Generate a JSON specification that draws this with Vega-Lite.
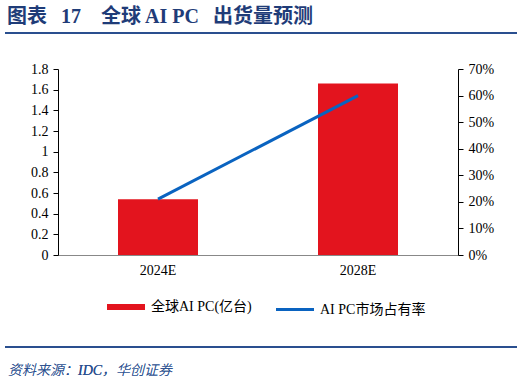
{
  "$schema": "https://vega.github.io/schema/vega-lite/v6.json",
  "autosize": "none",
  "width": 400,
  "height": 186,
  "padding": {"left": 58, "top": 69, "right": 66, "bottom": 127},
  "background": "white",
  "title": {
    "text": "图表\u2002\u200917\u2003全球\u2009AI PC\u2002\u2009出货量预测",
    "anchor": "start",
    "frame": "group",
    "dx": -51,
    "offset": 5,
    "font": "'Liberation Serif', 'Noto Sans CJK SC'",
    "fontSize": 20,
    "fontWeight": "bold",
    "color": "#1F3C78"
  },
  "config": {
    "view": {"stroke": null},
    "axis": {
      "labelFont": "'Liberation Serif', 'Noto Sans CJK SC'",
      "labelFontSize": 14,
      "labelColor": "#000000",
      "grid": false,
      "title": null
    }
  },
  "data": {
    "values": [
      {"year": "2024E", "shipments": 0.54, "share": 0.21},
      {"year": "2028E", "shipments": 1.66, "share": 0.6}
    ]
  },
  "layer": [
    {
      "mark": {"type": "bar", "color": "#E3141E"},
      "encoding": {
        "x": {
          "field": "year",
          "type": "nominal",
          "scale": {"paddingInner": 0.6, "paddingOuter": 0.3},
          "axis": {
            "labelAngle": 0,
            "ticks": false,
            "domainColor": "#888888",
            "domainWidth": 1,
            "labelPadding": 8
          }
        },
        "y": {
          "field": "shipments",
          "type": "quantitative",
          "scale": {"domain": [0, 1.8]},
          "axis": {
            "values": [0, 0.2, 0.4, 0.6, 0.8, 1, 1.2, 1.4, 1.6, 1.8],
            "format": "~g",
            "domainColor": "#000000",
            "tickColor": "#000000",
            "tickSize": 5,
            "labelPadding": 5
          }
        },
        "fill": {
          "datum": "全球AI PC(亿台)",
          "scale": {
            "domain": ["全球AI PC(亿台)", "AI PC市场占有率"],
            "range": ["#E3141E", "#0A63C0"]
          },
          "legend": {
            "orient": "none",
            "legendX": 61,
            "legendY": 231,
            "direction": "horizontal",
            "title": null,
            "symbolType": "stroke",
            "symbolSize": 1444,
            "symbolStrokeWidth": 6,
            "labelFont": "'Liberation Serif', 'Noto Sans CJK SC'",
            "labelFontSize": 14,
            "labelColor": "#000000",
            "labelOffset": 18,
            "columnPadding": 18,
            "encode": {
              "symbols": {
                "update": {
                  "stroke": {"scale": "fill", "field": "value"},
                  "strokeWidth": {"signal": "datum.value === 'AI PC市场占有率' ? 3 : 6"}
                }
              }
            }
          }
        }
      }
    },
    {
      "mark": {"type": "line", "color": "#0A63C0", "strokeWidth": 3},
      "encoding": {
        "x": {"field": "year", "type": "nominal"},
        "y": {
          "field": "share",
          "type": "quantitative",
          "scale": {"domain": [0, 0.7]},
          "axis": {
            "orient": "right",
            "values": [0, 0.1, 0.2, 0.3, 0.4, 0.5, 0.6, 0.7],
            "format": ".0%",
            "domainColor": "#000000",
            "tickColor": "#000000",
            "tickSize": 5,
            "labelPadding": 5
          }
        }
      }
    },
    {
      "mark": {"type": "rule", "color": "#2A4F8F", "strokeWidth": 2},
      "encoding": {
        "x": {"value": -53},
        "x2": {"value": 459},
        "y": {"value": -36}
      }
    },
    {
      "mark": {"type": "rule", "color": "#2A4F8F", "strokeWidth": 2},
      "encoding": {
        "x": {"value": -53},
        "x2": {"value": 459},
        "y": {"value": 278}
      }
    },
    {
      "mark": {
        "type": "text",
        "align": "left",
        "baseline": "middle",
        "font": "'Liberation Serif', 'Noto Sans CJK SC'",
        "fontSize": 14,
        "fontStyle": "italic",
        "fontWeight": 300,
        "color": "#2A4F8F"
      },
      "encoding": {
        "x": {"value": -50},
        "y": {"value": 302},
        "text": {"value": "资料来源：IDC，华创证券"}
      }
    }
  ],
  "resolve": {"scale": {"y": "independent"}}
}
